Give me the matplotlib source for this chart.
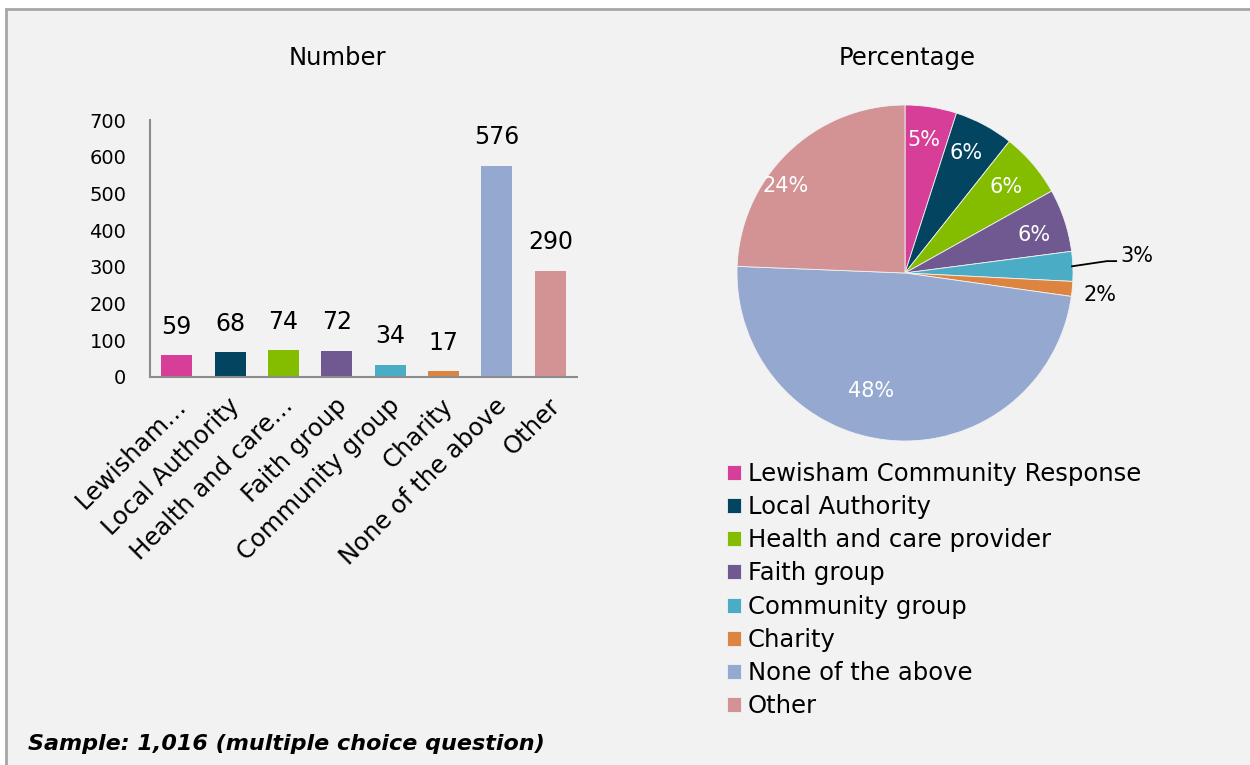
import numpy as np
import matplotlib.pyplot as plt
import matplotlib.transforms as mtransforms
from matplotlib.patches import Rectangle

categories = ["Lewisham Community Response", "Local Authority", "Health and care provider",
              "Faith group", "Community group", "Charity", "None of the above", "Other"]
tick_labels = ["Lewisham…", "Local Authority", "Health and care…", "Faith group",
               "Community group", "Charity", "None of the above", "Other"]
counts = [59, 68, 74, 72, 34, 17, 576, 290]
pct_labels = ["5%", "6%", "6%", "6%", "3%", "2%", "48%", "24%"]
colors = ["#d63e97", "#034560", "#84bc00", "#705890", "#4bacc6", "#dd8540", "#95a9d0", "#d39294"]

W, H = 1250, 765
fig = plt.figure(figsize=(W / 100, H / 100), dpi=100)
fig.patch.set_facecolor("white")
plt.rcParams["font.family"] = "DejaVu Sans"

# background panel with grey border (left/top visible)
fig.patches.append(Rectangle((6 / W, -0.1), 1.2, 1 - 9 / H + 0.1, transform=fig.transFigure,
                             facecolor="#f2f2f2", edgecolor="#a6a6a6", lw=2, zorder=-5))


def box(l, t, r, b):
    return [l / W, 1 - b / H, (r - l) / W, (b - t) / H]


# ---- bar chart ----
ax = fig.add_axes(box(150, 120, 577, 377))
ax.set_facecolor("none")
x = np.arange(len(counts))
ax.bar(x, counts, width=0.58, color=colors)
for xi, v in zip(x, counts):
    ax.text(xi, v + 44, str(v), ha="center", va="bottom", fontsize=17)
ax.set_xlim(-0.5, len(counts) - 0.5)
ax.set_ylim(0, 700)
ax.set_yticks(range(0, 701, 100))
ax.tick_params(axis="y", length=0, pad=17, labelsize=14)
ax.tick_params(axis="x", length=0, pad=18)
ax.set_xticks(x)
ax.set_xticklabels(tick_labels, rotation=45, ha="right", va="center", rotation_mode="anchor", fontsize=17.5)
shift = mtransforms.ScaledTranslation(6 / 100, 0, fig.dpi_scale_trans)
for lab in ax.get_xticklabels():
    lab.set_transform(lab.get_transform() + shift)
for s in ["top", "right"]:
    ax.spines[s].set_visible(False)
for s in ["left", "bottom"]:
    ax.spines[s].set_color("#8c8c8c")
    ax.spines[s].set_linewidth(1.5)
fig.text(337 / W, 1 - 58 / H, "Number", ha="center", va="center", fontsize=17.5)

# ---- pie chart ----
pax = fig.add_axes(box(737, 105, 1073, 441))
pax.set_facecolor("none")
wedges, _ = pax.pie(counts, colors=colors, startangle=90, counterclock=False,
                    wedgeprops=dict(edgecolor="#f2f2f2", linewidth=0.6))
pax.set_xlim(-1, 1)
pax.set_ylim(-1, 1)
pax.set_aspect("equal")
fig.text(907 / W, 1 - 58 / H, "Percentage", ha="center", va="center", fontsize=17.5)

label_r = [0.8, 0.8, 0.79, 0.8, 1.38, 1.17, 0.73, 0.88]
label_shift = [1, 1, 0, -2, 2, -1, -11, 10]
for i, (w, txt) in enumerate(zip(wedges, pct_labels)):
    mid = np.deg2rad((w.theta1 + w.theta2) / 2)
    ang = mid + np.deg2rad(label_shift[i])
    r = label_r[i]
    px, py = r * np.cos(ang), r * np.sin(ang)
    if i == 4:
        # leader line: from wedge edge, slight rise, then a short horizontal stub
        x0, y0 = 0.99 * np.cos(mid), 0.99 * np.sin(mid)
        pax.plot([x0, px - 0.174, px - 0.114], [y0, py - 0.032, py - 0.032], color="black", lw=1.3,
                 clip_on=False, solid_capstyle="butt")
        pax.text(px - 0.096, py, txt, ha="left", va="center", fontsize=15)
    else:
        pax.text(px, py, txt, ha="center", va="center", fontsize=15,
                 color="black" if r > 1 else "white")

pax.legend(wedges, categories, loc="upper left", bbox_to_anchor=(717 / W, 1 - 452 / H),
           bbox_transform=fig.transFigure, frameon=False, fontsize=17.5,
           handlelength=0.58, handleheight=0.58, handletextpad=0.3, labelspacing=0.38,
           borderaxespad=0)

fig.text(28 / W, 1 - 744 / H, "Sample: 1,016 (multiple choice question)", ha="left", va="center",
         fontsize=16, fontweight="bold", fontstyle="italic")

fig.savefig("out.png", dpi=100, facecolor=fig.get_facecolor())
